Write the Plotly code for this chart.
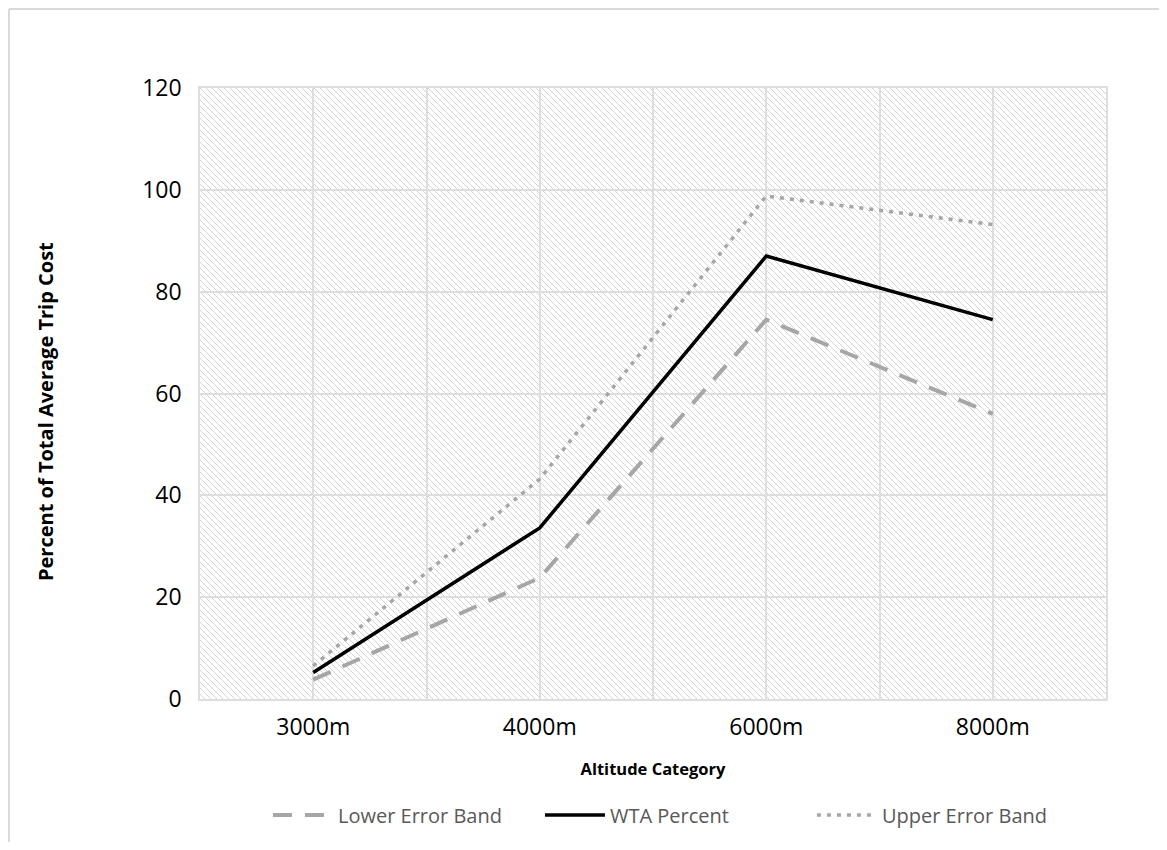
import base64
import plotly.graph_objects as go

# ---- data ----
categories = ["3000m", "4000m", "6000m", "8000m"]
lower_band = [3.8, 23.8, 74.5, 56.0]
wta_percent = [5.2, 33.6, 87.0, 74.5]
upper_band = [6.5, 43.2, 98.8, 93.2]
y_ticks = [0, 20, 40, 60, 80, 100, 120]

x_idx = list(range(len(categories)))

# page body has an 8px margin, so the figure is a little smaller than the window
W, H = 1151, 834
ML, MT = 192, 80
PW, PH = 906, 611
MR, MB = W - ML - PW, H - MT - PH

grid = "#dedede"
band_grey = "#a6a6a6"
font_fam = "Open Sans, Lato, DejaVu Sans, sans-serif"

fig = go.Figure()
fig.add_trace(go.Scatter(
    x=x_idx, y=lower_band, mode="lines", name="Lower Error Band",
    line=dict(color=band_grey, width=4, dash="19px,13px")))
fig.add_trace(go.Scatter(
    x=x_idx, y=wta_percent, mode="lines", name="WTA Percent",
    line=dict(color="black", width=3.5)))
fig.add_trace(go.Scatter(
    x=x_idx, y=upper_band, mode="lines", name="Upper Error Band",
    line=dict(color=band_grey, width=3.5, dash="4px,6px")))

# hatched plot background
svg = (f'<svg xmlns="http://www.w3.org/2000/svg" width="{PW}" height="{PH}" '
       f'viewBox="0 0 {PW} {PH}" preserveAspectRatio="none">'
       '<defs><pattern id="h" width="6" height="6" patternUnits="userSpaceOnUse">'
       '<path d="M-1,-1 L7,7 M-1,5 L1,7 M5,-1 L7,1" stroke="#d4d4d4" stroke-width="1.0"/>'
       '</pattern></defs>'
       f'<rect width="{PW}" height="{PH}" fill="white"/>'
       f'<rect width="{PW}" height="{PH}" fill="url(#h)"/></svg>')
uri = "data:image/svg+xml;base64," + base64.b64encode(svg.encode()).decode()
fig.add_layout_image(dict(source=uri, xref="paper", yref="paper", x=0, y=1,
                          sizex=1, sizey=1, xanchor="left", yanchor="top",
                          sizing="stretch", layer="below"))

# outer chart border (top and left visible)
bx = (1 - ML) / PW
by = 1 + (MT - 1) / PH
fig.add_shape(type="line", xref="paper", yref="paper", x0=bx, x1=1.2, y0=by, y1=by,
              line=dict(color="#d9d9d9", width=2))
fig.add_shape(type="line", xref="paper", yref="paper", x0=bx, x1=bx, y0=by, y1=-0.4,
              line=dict(color="#d9d9d9", width=2))

n = len(categories)
fig.update_xaxes(
    range=[-0.5, n - 0.5], tickmode="array", tickvals=x_idx, ticktext=categories,
    showgrid=True, gridcolor=grid, gridwidth=1.5, zeroline=False,
    showline=True, linecolor=grid, linewidth=1.5, mirror=True,
    ticks="", ticklabelstandoff=7,
    minor=dict(tickmode="array", tickvals=[i - 0.5 for i in range(n + 1)],
               showgrid=True, gridcolor=grid, gridwidth=1.5, ticks=""),
    tickfont=dict(family=font_fam, size=23, color="black"),
    title=dict(text="<b>Altitude Category</b>", standoff=22,
               font=dict(family=font_fam, size=16.5, color="black")))
fig.update_yaxes(
    range=[0, 120], tickmode="array", tickvals=y_ticks,
    showgrid=True, gridcolor=grid, gridwidth=1.5, zeroline=False,
    showline=True, linecolor=grid, linewidth=1.5, mirror=True,
    ticks="", ticklabelstandoff=12,
    tickfont=dict(family=font_fam, size=23, color="black"))

# y-axis title (placed like the original, slightly below the plot centre)
fig.add_annotation(text="<b>Percent of Total Average Trip Cost</b>",
                   xref="paper", yref="paper", x=(37 - ML) / PW, y=(MT + PH - 404) / PH,
                   xanchor="center", yanchor="middle", textangle=-90, showarrow=False,
                   font=dict(family=font_fam, size=20, color="black"))

fig.update_layout(
    width=W, height=H,
    margin=dict(l=ML, r=MR, t=MT, b=MB, pad=0, autoexpand=False),
    paper_bgcolor="white", plot_bgcolor="rgba(0,0,0,0)",
    showlegend=True,
    legend=dict(orientation="h", x=0.075, xanchor="left", y=-0.19, yanchor="middle",
                font=dict(family=font_fam, size=20, color="#595959"),
                itemwidth=60, entrywidth=197, entrywidthmode="pixels"),
)

fig.write_html("out.html")
